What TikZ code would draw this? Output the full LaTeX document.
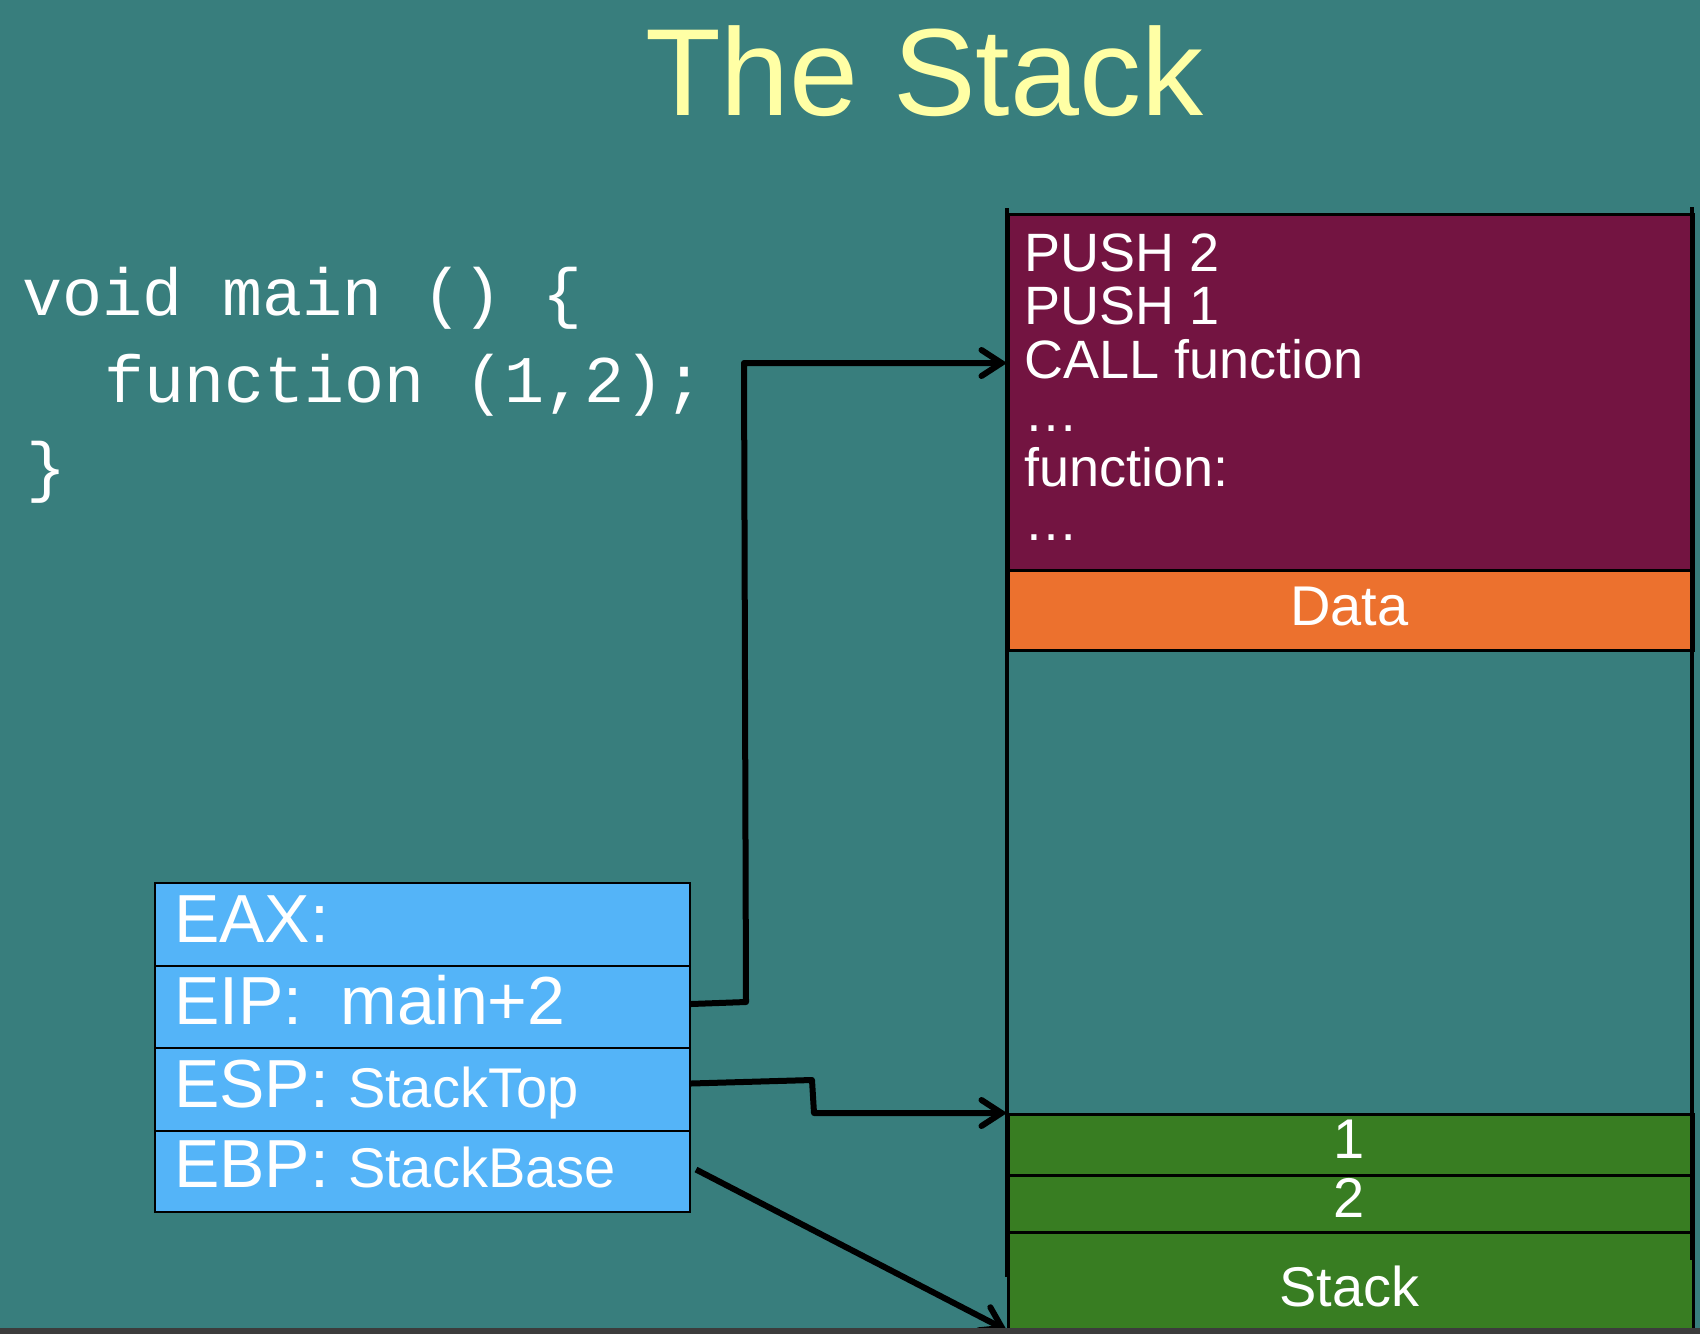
\documentclass[tikz,border=0pt]{standalone}
\usepackage{fontspec}
\setmainfont{Liberation Sans}
\setmonofont{Liberation Mono}
\usetikzlibrary{arrows.meta}

\definecolor{bg}{RGB}{56,126,125}
\definecolor{titleyellow}{RGB}{255,255,165}
\definecolor{codepurple}{RGB}{115,20,65}
\definecolor{dataorange}{RGB}{236,113,46}
\definecolor{stackgreen}{RGB}{56,125,34}
\definecolor{regblue}{RGB}{84,180,248}
\definecolor{bargray}{RGB}{60,60,60}

\newcommand\fsz[1]{\fontsize{#1}{#1}\selectfont}

\begin{document}
\begin{tikzpicture}[x=1pt,y=-1pt,
  membox/.style={draw=black,line width=2.5pt,inner sep=0pt,minimum width=685pt,anchor=north west},
  regbox/.style={draw=black,line width=2pt,inner sep=0pt,minimum width=535pt,fill=regblue,anchor=north west},
  title/.style={text=titleyellow,font=\fsz{124},inner sep=0pt,anchor=base west},
  codeline/.style={text=white,font=\ttfamily\fsz{66.7},inner sep=0pt,anchor=base west},
  asmline/.style={text=white,font=\fsz{54},inner sep=0pt,anchor=base west},
  cellText/.style={text=white,font=\fsz{56},inner sep=0pt,anchor=base},
  regText/.style={text=white,font=\fsz{68},inner sep=0pt,anchor=base west},
  rail/.style={draw=black,line width=4pt},
  conn/.style={draw=black,line width=6pt,line join=round},
  tip/.style={-{Straight Barb[length=20pt,width=26pt,line cap=round]}}]

% background and frame
\fill[bg] (0,0) rectangle (1700,1334);
\useasboundingbox (0,0) rectangle (1700,1334);

% heading
\node[title] (heading) at (645,115) {The Stack};

% C source
\node[codeline] (src1) at (22,315) {void main () \{};
\node[codeline] (src2) at (104,402) {function (1,2);};
\node[codeline] (src3) at (26,489) {\}};

% memory column
\node[membox,fill=codepurple,minimum height=356pt] (code) at (1007,213) {};
\node[membox,fill=dataorange,minimum height=80pt] (data) at (1007,569) {};
\node[membox,fill=stackgreen,minimum height=61pt] (s1) at (1007,1113) {};
\node[membox,fill=stackgreen,minimum height=57pt] (s2) at (1007,1174) {};
\node[membox,fill=stackgreen,minimum height=97pt] (stk) at (1007,1231) {};

\draw[rail] (1007,208) -- (1007,1277);
\draw[rail] (1692,207) -- (1692,1260);

% instructions in the code segment
\node[asmline] (i1) at (1024,271) {PUSH 2};
\node[asmline] (i2) at (1024,324) {PUSH 1};
\node[asmline] (i3) at (1024,378) {CALL function};
\node[asmline] (i4) at (1024,431) {…};
\node[asmline] (i5) at (1024,486) {function:};
\node[asmline] (i6) at (1024,540) {…};

% segment labels
\node[cellText] (tdata) at (1349.5,625) {Data};
\node[cellText] (t1) at (1349.5,1158) {1};
\node[cellText] (t2) at (1349.5,1217) {2};
\node[cellText] (tstk) at (1349.5,1306) {Stack};

% registers
\node[regbox,minimum height=83pt] (eax) at (154,882) {};
\node[regbox,minimum height=82pt] (eip) at (154,965) {};
\node[regbox,minimum height=83pt] (esp) at (154,1047) {};
\node[regbox,minimum height=81pt] (ebp) at (154,1130) {};

\node[regText] (leax) at (174,942) {EAX:};
\node[regText] (leip) at (174,1024) {EIP:\ \ main+2};
\node[regText] (lesp) at (174,1107) {ESP: {\fsz{56}StackTop}};
\node[regText] (lebp) at (174,1187) {EBP: {\fsz{56}StackBase}};

% register pointers
\coordinate (eipA) at (746,1002);
\coordinate (eipB) at (744,363);
\draw[conn,tip] ([yshift=3pt]eip.east) -- (eipA) -- (eipB) -- (code.west |- eipB);

\coordinate (espA) at (812,1080);
\coordinate (espB) at (814,1113);
\draw[conn,tip] ([yshift=6pt]esp.east) -- (espA) -- (espB) -- (s1.north west);

\draw[conn,tip] ([xshift=5pt,yshift=2pt]ebp.east) -- (stk.south west);

% bottom strip
\fill[bargray] (0,1328) rectangle (1700,1334);
\end{tikzpicture}
\end{document}
